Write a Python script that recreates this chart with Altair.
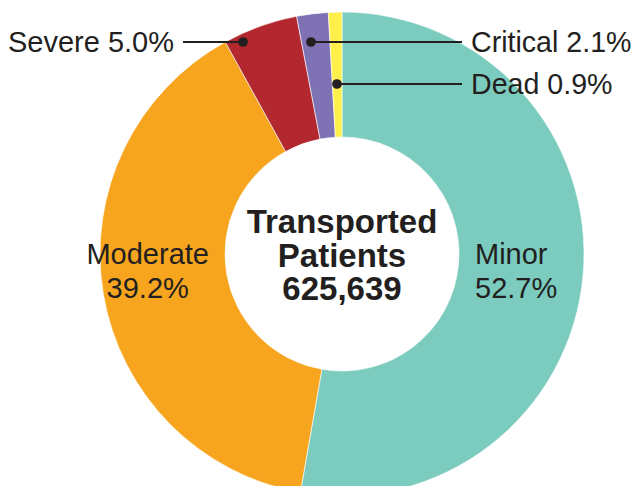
import altair as alt
import pandas as pd

# ---- data ----
categories = ["Minor", "Moderate", "Severe", "Critical", "Dead"]
percents = [52.7, 39.2, 5.0, 2.1, 0.9]
colors = ["#7BCBBF", "#F7A51E", "#B3272E", "#7E72B5", "#FEEF4A"]
center_lines = ["Transported", "Patients", "625,639"]
callout_cats = ["Severe", "Critical", "Dead"]

# ---- layout (chart pixel coordinates) ----
CX, CY = 334, 246
R_IN, R_OUT = 117, 242
FONT = "Liberation Sans"
TXT = "#231F20"
callout_label_x = [166, 463, 463]
callout_label_y = [44, 44, 86]
callout_line_x1 = [175, 303, 329]
callout_line_x2 = [235, 454, 454]
callout_line_y = [34, 34, 76]
callout_dot_x = [235, 303, 329]

df = pd.DataFrame({"cat": categories, "pct": percents, "idx": list(range(len(categories)))})
pct_of = dict(zip(categories, percents))

theta = alt.Theta("pct:Q", stack=True)
order = alt.Order("idx:Q", sort="ascending")
color = alt.Color("cat:N", scale=alt.Scale(domain=categories, range=colors), legend=None)

base = alt.Chart(df).encode(theta=theta, order=order, x=alt.value(CX), y=alt.value(CY))

donut = base.mark_arc(innerRadius=R_IN, outerRadius=R_OUT, stroke="white", strokeWidth=0.6).encode(color=color)


def slice_label(name, radius, dy, align):
    return base.transform_calculate(
        lbl=f"datum.cat == '{name}' ? datum.cat + '\\n' + format(datum.pct, '.1f') + '%' : ''"
    ).mark_text(
        radius=radius, dy=dy, align=align, baseline="middle", fontSize=29, font=FONT,
        color=TXT, lineBreak="\n", lineHeight=34
    ).encode(text="lbl:N")


moderate_lbl = slice_label("Moderate", 197, -31, "center")
minor_lbl = slice_label("Minor", 133.5, -11, "left")

center_df = pd.DataFrame({"t": ["\n".join(center_lines)]})
center = alt.Chart(center_df).mark_text(
    fontSize=33, fontWeight="bold", font=FONT, color=TXT, align="center", baseline="middle",
    lineBreak="\n", lineHeight=33.5
).encode(x=alt.value(CX), y=alt.value(CY - 31), text="t:N")

ann = pd.DataFrame({
    "label": [f"{c} {pct_of[c]:.1f}%" for c in callout_cats],
    "lx": callout_label_x, "ly": callout_label_y,
    "x1": callout_line_x1, "x2": callout_line_x2, "y": callout_line_y,
    "dx": callout_dot_x,
})

ann_base = alt.Chart(ann)
rules = ann_base.mark_rule(color=TXT, strokeWidth=2).encode(
    x=alt.X("x1:Q", scale=None), x2="x2:Q", y=alt.Y("y:Q", scale=None)
)
dots = ann_base.mark_circle(color=TXT, opacity=1, size=95).encode(
    x=alt.X("dx:Q", scale=None), y=alt.Y("y:Q", scale=None)
)
txt_right = ann_base.transform_filter("datum.label[0] == 'S'").mark_text(
    align="right", baseline="alphabetic", fontSize=29, font=FONT, color=TXT
).encode(x=alt.X("lx:Q", scale=None), y=alt.Y("ly:Q", scale=None), text="label:N")
txt_left = ann_base.transform_filter("datum.label[0] != 'S'").mark_text(
    align="left", baseline="alphabetic", fontSize=28.6, font=FONT, color=TXT
).encode(x=alt.X("lx:Q", scale=None), y=alt.Y("ly:Q", scale=None), text="label:N")

chart = alt.layer(
    donut, moderate_lbl, minor_lbl, center, rules, dots, txt_right, txt_left
).properties(
    width=626, height=478, padding=0, autosize=alt.AutoSizeParams(type="none")
).configure_view(stroke=None)

chart.save("out.html", embed_options={"renderer": "svg", "actions": False})
